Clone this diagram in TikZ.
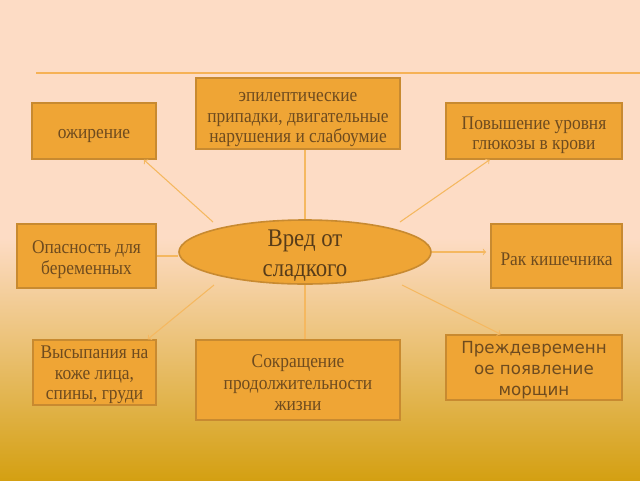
\documentclass[tikz,border=0pt]{standalone}
\usepackage{fontspec}
\setmainfont{Liberation Serif}[FakeStretch=0.9]
\newfontfamily\boxsans{DejaVu Sans}
\usetikzlibrary{positioning,shapes.geometric}
\definecolor{peach}{HTML}{FDDCC5}
\definecolor{gold}{HTML}{D4A012}
\definecolor{boxfill}{HTML}{EFA535}
\definecolor{boxline}{HTML}{C88A30}
\definecolor{linkcol}{HTML}{F5B860}
\definecolor{txt}{HTML}{6E4B1F}
\newcommand{\padtop}[1]{\rule{0pt}{0pt}\\[#1]}
\begin{document}
\begin{tikzpicture}[x=0.75pt,y=-0.75pt,
    harm/.style={draw=boxline, line width=1.2pt, fill=boxfill, text=txt, align=center,
      inner sep=0pt, font=\fontsize{14.5}{15.2}\selectfont},
    harmone/.style={harm, execute at begin node={\rule{0pt}{15pt}}},
    link/.style={draw=linkcol, line width=0.8pt}]
	\useasboundingbox (0,0) rectangle (640,480);
	\fill[peach] (0,0) rectangle (640,238);
	\shade[top color=peach, bottom color=gold] (0,237.5) rectangle (640,480);
	\draw[linkcol!90!orange, line width=1.5pt] (36,73) -- (640,73);

            \node[draw=boxline, line width=1.2pt, fill=boxfill, ellipse, minimum width=189pt, minimum height=48pt,
              inner sep=0pt] (vred) at (305,252) {};
            \node[text=txt!80!black, align=center, font=\fontsize{19}{22.5}\selectfont, inner sep=0pt]
              (vredtxt) at (305,256) {Вред от\\сладкого};

            \node[harm, minimum width=153pt, minimum height=53.25pt] (epil) at (298,113.5)
              {\padtop{1pt}эпилептические\\припадки, двигательные\\нарушения и слабоумие};
            \node[harmone, minimum width=93pt, minimum height=42pt] (ozhir) at (94,131) {ожирение};
            \node[harm, minimum width=132pt, minimum height=42pt] (povysh) at (534,131)
              {\padtop{1pt}Повышение уровня\\глюкозы в крови};
            \node[harm, minimum width=104.25pt, minimum height=48pt] (opasn) at (86.5,256)
              {\padtop{0pt}Опасность для\\беременных};
            \node[harmone, minimum width=98.25pt, minimum height=48pt] (rak) at (556.5,256) {Рак кишечника};
            \node[harm, minimum width=92.25pt, minimum height=48.75pt] (vysyp) at (94.5,372.5)
              {\padtop{-2pt}Высыпания на\\коже лица,\\спины, груди};
            \node[harm, minimum width=153pt, minimum height=60pt, font=\fontsize{14.5}{16.2}\selectfont]
              (sokr) at (298,380) {\padtop{-2pt}Сокращение\\продолжительности\\жизни};
            \node[harm, minimum width=132pt, minimum height=48.75pt, font=\boxsans\fontsize{12.5}{15.8}\selectfont]
              (prezhd) at (534,367.5) {\padtop{-3pt}Преждевременн\\ое появление\\морщин};

            \coordinate (ul) at (213,222);
            \coordinate (ur) at (400,222);
            \coordinate (ll) at (214,285);
            \coordinate (lr) at (402,285);

            \draw[link] (vred.north) -- (vred.north |- epil.south);
            \draw[link] (vred.south) -- (vred.south |- sokr.north);
            \draw[link] (opasn.east) -- (opasn.east -| vred.west);
            \draw[link,->,shorten >=3pt] (vred.east) -- (vred.east -| rak.west);
            \draw[link,->] (ul) -- (ozhir.-30);
            \draw[link,->] (ur) -- (povysh.-147);
            \draw[link,->] (ll) -- (vysyp.32);
            \draw[link,->] (lr) -- (prezhd.135);
        \end{tikzpicture}
\end{document}
